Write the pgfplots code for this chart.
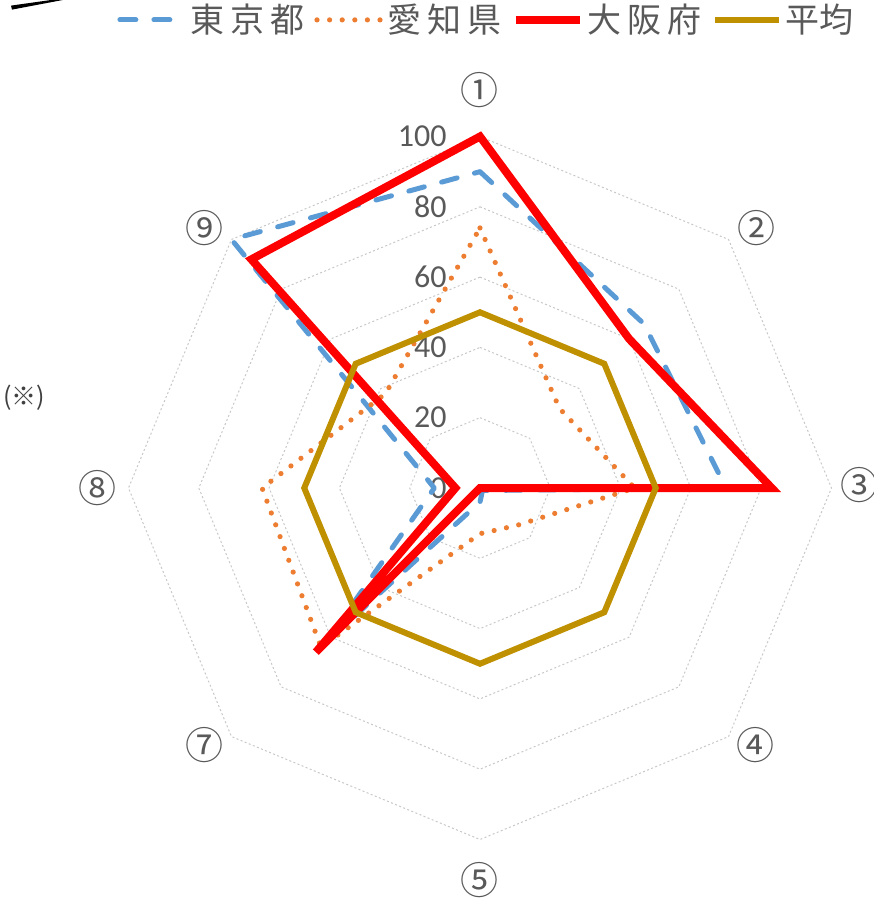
\documentclass[border=0pt]{standalone}
\usepackage{fontspec}
\setmainfont{Noto Sans CJK JP}
\newfontfamily\carlito{Carlito}
\usepackage{pgfplots}
\pgfplotsset{compat=1.18}
\usepgfplotslibrary{polar}
\definecolor{tokyo}{HTML}{5B9BD5}
\definecolor{aichi}{HTML}{ED7D31}
\definecolor{osaka}{HTML}{FF0000}
\definecolor{avg}{HTML}{BF9000}
\definecolor{txt}{HTML}{595959}
\definecolor{gridc}{HTML}{C8C8C8}
\begin{document}
\begin{tikzpicture}
\path[use as bounding box] (0,0) rectangle (437pt,-450.5pt);
\fill[black] (5.5pt,-2.8pt) -- (6pt,-4.8pt) -- (34pt,0.5pt) -- (29pt,0.5pt) -- cycle;
\node[text=black!75, font=\fontsize{12.5pt}{14pt}\selectfont] at (12pt,-199pt) {(※)};
\begin{polaraxis}[
  at={(240pt,-244pt)}, anchor=center,
  scale only axis, width=351.5pt, height=351.5pt,
  ymin=0, ymax=100, xmin=0, xmax=360,
  hide axis, xtick=\empty, ytick=\empty,
  clip=false,
  legend columns=4,
  legend style={at={(axis cs:89.08,133.2)}, anchor=center, draw=none, fill=none,
    inner sep=0pt, font=\fontsize{17pt}{20pt}\selectfont, text=txt,
    /tikz/every even column/.append style={column sep=3pt},
    cells={anchor=west}},
  legend image code/.code={\draw[#1] (0pt,0pt) -- (32pt,0pt);},
]
% octagonal grid rings
\addplot[gridc, line width=0.5pt, dash pattern=on 1pt off 1.2pt, forget plot] coordinates {(90,20)(45,20)(0,20)(-45,20)(-90,20)(-135,20)(-180,20)(-225,20)(-270,20)};
\addplot[gridc, line width=0.5pt, dash pattern=on 1pt off 1.2pt, forget plot] coordinates {(90,40)(45,40)(0,40)(-45,40)(-90,40)(-135,40)(-180,40)(-225,40)(-270,40)};
\addplot[gridc, line width=0.5pt, dash pattern=on 1pt off 1.2pt, forget plot] coordinates {(90,60)(45,60)(0,60)(-45,60)(-90,60)(-135,60)(-180,60)(-225,60)(-270,60)};
\addplot[gridc, line width=0.5pt, dash pattern=on 1pt off 1.2pt, forget plot] coordinates {(90,80)(45,80)(0,80)(-45,80)(-90,80)(-135,80)(-180,80)(-225,80)(-270,80)};
\addplot[gridc, line width=0.5pt, dash pattern=on 1pt off 1.2pt, forget plot] coordinates {(90,100)(45,100)(0,100)(-45,100)(-90,100)(-135,100)(-180,100)(-225,100)(-270,100)};
% tick labels
\foreach \v in {0,20,40,60,80,100} {
  \edef\tmp{\noexpand\node[anchor=east, text=txt, inner sep=0pt, xshift=-16.5pt, font=\noexpand\carlito\noexpand\fontsize{16pt}{18pt}\noexpand\selectfont] at (axis cs:90,\v) {\v};}
  \tmp
}
% series: categories 1,2,3,4,5,7,8,9
\addplot[tokyo, line width=2.5pt, line cap=round, line join=round, dash pattern=on 8pt off 9pt] coordinates {(90,90)(45,66)(0,70)(-45,1)(-90,4)(-135,62)(-180,13)(-225,100)(-270,90)};
\addlegendentry{東\hspace{3pt}京\hspace{3pt}都}
\addplot[aichi, line width=2.6pt, line cap=round, dash pattern=on 0pt off 6.3pt] coordinates {(90,74)(45,32)(0,44)(-45,15)(-90,13)(-135,64)(-180,62)(-225,38)(-270,74)};
\addlegendentry{愛\hspace{3pt}知\hspace{3pt}県}
\addplot[osaka, line width=4pt, miter limit=10] coordinates {(90,100)(45,60)(0,83)(-45,0)(-90,0)(-135,66)(-180,7)(-225,92)(-270,100)(-315,60)};
\addlegendentry{大\hspace{3pt}阪\hspace{3pt}府}
\addplot[avg, line width=3pt] coordinates {(90,50)(45,50)(0,50)(-45,50)(-90,50)(-135,50)(-180,50)(-225,50)(-270,50)(-315,50)};
\addlegendentry{平均}
% category labels
\begin{scope}[every node/.style={text=txt, inner sep=0pt, font=\fontsize{19pt}{22pt}\selectfont}]
\node at (axis cs:90,113.2) {①};
\node at (axis cs:43.2,108) {②};
\node at (axis cs:0.45,108.1) {③};
\node at (axis cs:-43.06,107.1) {④};
\node at (axis cs:-90,111.5) {⑤};
\node at (axis cs:-136.94,107.1) {⑦};
\node at (axis cs:180,108.7) {⑧};
\node at (axis cs:136.6,107.7) {⑨};
\end{scope}
\end{polaraxis}
\end{tikzpicture}
\end{document}
